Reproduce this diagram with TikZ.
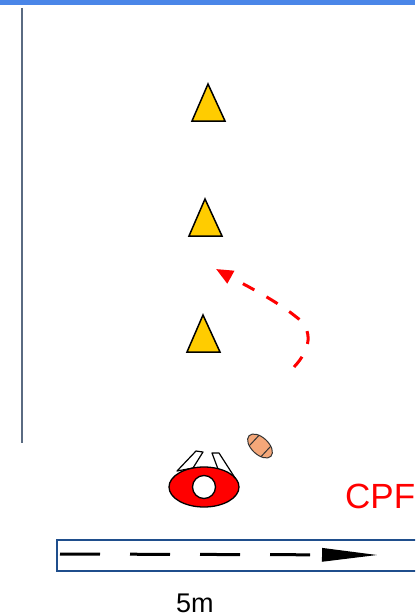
\documentclass[tikz,border=0pt]{standalone}
\usepackage{fontspec}
\setmainfont{Liberation Sans}
\usetikzlibrary{arrows.meta}
\definecolor{conefill}{HTML}{FFCC00}
\definecolor{topbar}{HTML}{4A86E8}
\definecolor{sideline}{HTML}{5A6B82}
\definecolor{boxline}{HTML}{1F4E8C}
\definecolor{ballfill}{HTML}{F4A779}
\tikzset{
  cone/.style={draw=black, fill=conefill, line width=1.5pt, line join=miter},
  arm/.style={draw=black, fill=white, line width=1.2pt, line join=round},
}
\begin{document}
\begin{tikzpicture}[x=1pt, y=-1pt]
\useasboundingbox (0,0) rectangle (415,615);
\clip (0,0) rectangle (415,615);
% Top bar and side line
\fill[topbar] (0,0) rectangle (415,5);
\draw[sideline, line width=1.8pt] (22,8) -- (22,443);
% Cones
\draw[cone] (208,84) -- (225,121) -- (192,121) -- cycle;
\draw[cone] (205,199) -- (222,236) -- (189,236) -- cycle;
\draw[cone] (203,315) -- (220,352) -- (187,352) -- cycle;
% Run
\draw[red, line width=3pt, dash pattern=on 13pt off 14pt, -{Triangle[length=17pt,width=14pt]}]
  (294,367) .. controls (310,350) and (315,330) .. (295,316) .. controls (275,300) and (245,285) .. (216,269);
% Player
\draw[arm] (177,471) -- (196,451) -- (203,452) -- (193,468) -- cycle;
\draw[arm] (212,453) -- (219,453) -- (237,481) -- (218,469) -- cycle;
\draw[black, fill=red, line width=1.3pt] (204,487) ellipse [x radius=35, y radius=20];
\draw[black, fill=white, line width=1.3pt] (204,487) circle [radius=11.5];
% Ball
\begin{scope}[shift={(260,446)}, rotate=-43]
\draw[black!80, fill=ballfill, line width=1pt] (0,0) ellipse [x radius=15, y radius=8.5];
\draw[black!80, line width=1pt] (-8,-7) -- (-8,7);
\draw[black!80, line width=1pt] (8,-7) -- (8,7);
\end{scope}
% Distance box
\draw[boxline, line width=1.3pt] (57,540) rectangle (430,571);
\draw[black, line width=3pt, dash pattern=on 40pt off 30pt, -{Triangle[length=56pt,width=13pt]}] (60,554) -- (378,555);
% Labels
\node[red, font=\fontsize{35}{35}\selectfont, anchor=base west, inner sep=0pt] (cpf) at (345,508) {CPF};
\node[black, font=\fontsize{27}{27}\selectfont, anchor=base west, inner sep=0pt] (dist) at (176,612) {5m};
\end{tikzpicture}
\end{document}
